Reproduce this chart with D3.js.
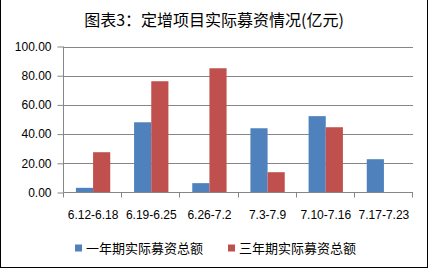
<!DOCTYPE html>
<html><head><meta charset="utf-8">
<script src="https://cdn.jsdelivr.net/npm/d3@7"></script>
<style>body{margin:0;background:#fff}svg{display:block}</style>
</head><body>
<svg id="c" width="429" height="269"></svg>
<script>
const categories = ["6.12-6.18","6.19-6.25","6.26-7.2","7.3-7.9","7.10-7.16","7.17-7.23"];
const seriesNames = ["一年期实际募资总额","三年期实际募资总额"];
const oneYear = [3.2, 48.1, 6.4, 44.0, 52.3, 22.8];
const threeYear = [27.6, 76.2, 85.1, 13.9, 44.7, 0];
const yTicks = [0,20,40,60,80,100];
const colors = ["#4F81BD","#C0504D"];
const title = "图表3：定增项目实际募资情况(亿元)";

const svg = d3.select("#c");
const cjk = "'Noto Sans CJK SC','Microsoft YaHei',sans-serif";
const num = "'Liberation Sans',Arial,sans-serif";

svg.append("rect").attr("x",0.5).attr("y",-2).attr("width",427).attr("height",269.5)
  .attr("fill","#fff").attr("stroke","#000").attr("stroke-width",1);

const x0 = d3.scaleBand().domain(categories).range([64,413]).paddingInner(0.41).paddingOuter(0.205);
const x1 = d3.scaleBand().domain([0,1]).range([0,x0.bandwidth()]);
const y = d3.scaleLinear().domain([0,100]).range([192.5,46.5]);

// gridlines
svg.append("g").selectAll("line").data(yTicks.filter(d=>d>0)).join("line")
  .attr("x1",64).attr("x2",413).attr("y1",d=>Math.round(y(d))+0.5).attr("y2",d=>Math.round(y(d))+0.5)
  .attr("stroke","#868686").attr("stroke-width",1);

// bars
const data = categories.map((c,i)=>({c, v:[oneYear[i],threeYear[i]]}));
const g = svg.append("g");
data.forEach(d=>{
  g.selectAll(null).data(d.v.map((v,k)=>({v,k}))).join("rect")
    .attr("x",e=>x0(d.c)+x1(e.k))
    .attr("y",e=>y(e.v))
    .attr("width",x1.bandwidth())
    .attr("height",e=>y(0)-y(e.v))
    .attr("fill",e=>colors[e.k]);
});

// y axis
const yAxis = d3.axisLeft(y).tickValues(yTicks).tickFormat(d3.format(".2f")).tickSize(6).tickPadding(6);
const ya = svg.append("g").attr("transform","translate(63.5,0)").call(yAxis);
ya.select(".domain").attr("stroke","#868686").attr("d","M0,46.5V192.5");
ya.selectAll(".tick line").attr("stroke","#868686");
ya.selectAll(".tick text").attr("font-family",num).attr("font-size",12).attr("fill","#000");

// x axis
const xa = svg.append("g").attr("transform","translate(0,192.5)");
xa.append("line").attr("x1",63.5).attr("x2",413).attr("stroke","#868686");
const bounds = d3.range(categories.length+1).map(i=>64 + i*(413-64)/categories.length);
xa.selectAll(".tk").data(bounds).join("line").attr("class","tk")
  .attr("x1",d=>Math.round(d)-0.5).attr("x2",d=>Math.round(d)-0.5).attr("y1",0).attr("y2",5).attr("stroke","#868686");
xa.selectAll("text").data(categories).join("text")
  .attr("x",d=>x0(d)+x0.bandwidth()/2).attr("y",26)
  .attr("text-anchor","middle").attr("font-family",num).attr("font-size",12).attr("fill","#000")
  .text(d=>d);

// title
svg.append("text").attr("x",214).attr("y",26).attr("text-anchor","middle")
  .attr("font-family",cjk).attr("font-size",16).attr("fill","#000").text(title);

// legend
const lx = [75,228];
const lg = svg.append("g");
seriesNames.forEach((s,i)=>{
  lg.append("rect").attr("x",lx[i]).attr("y",244.5).attr("width",7).attr("height",7).attr("fill",colors[i]);
  lg.append("text").attr("x",lx[i]+11).attr("y",253).attr("font-family",cjk).attr("font-size",13).attr("fill","#000").text(s);
});
</script>
</body></html>
